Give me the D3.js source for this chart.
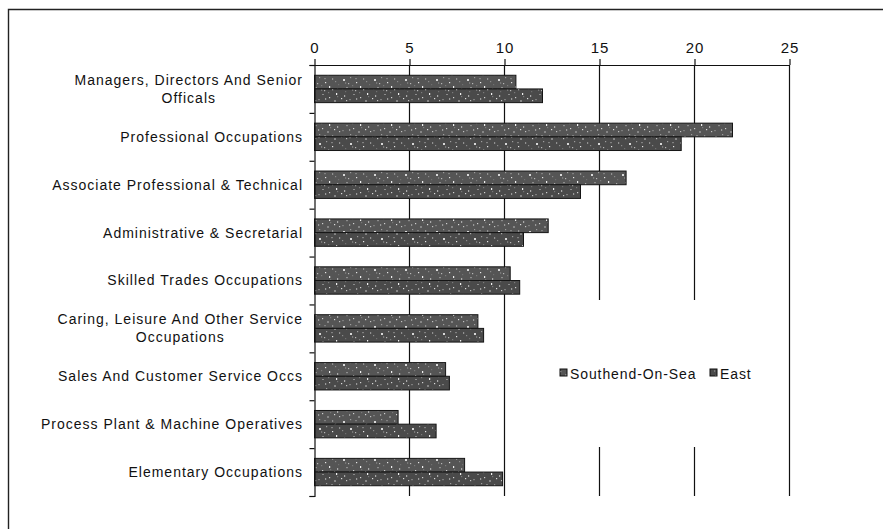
<!DOCTYPE html>
<html>
<head>
<meta charset="utf-8">
<script src="https://cdn.jsdelivr.net/npm/d3@7"></script>
<style>
  html, body { margin: 0; padding: 0; background: #fff; }
  svg { display: block; }
  text { font-family: "Liberation Sans", Arial, sans-serif; fill: #111; }
</style>
</head>
<body>
<svg id="chart" width="883" height="529"></svg>
<script>
// Occupation categories (label lines)
const categories = [
  ["Managers, Directors And Senior", "Officals"],
  ["Professional Occupations"],
  ["Associate Professional & Technical"],
  ["Administrative & Secretarial"],
  ["Skilled Trades Occupations"],
  ["Caring, Leisure And Other Service", "Occupations"],
  ["Sales And Customer Service Occs"],
  ["Process Plant & Machine Operatives"],
  ["Elementary Occupations"]
];
const seriesNames = ["Southend-On-Sea", "East"];
const southend = [10.6, 22.0, 16.4, 12.3, 10.3, 8.6, 6.9, 4.4, 7.9];
const east     = [12.0, 19.3, 14.0, 11.0, 10.8, 8.9, 7.1, 6.4, 9.9];
const xTicks = [0, 5, 10, 15, 20, 25];

const svg = d3.select("#chart");

// speckled fill used by both series
const defs = svg.append("defs");
const specks = [
  [2,3,"#d8d8d8"],[9,1,"#9c9c9c"],[15,6,"#e6e6e6"],[27,12,"#a8a8a8"],[5,11,"#8c8c8c"],
  [12,14,"#cfcfcf"],[22,2,"#909090"],[7,7,"#b5b5b5"],[1,16,"#7d7d7d"],[19,10,"#f0f0f0"],
  [25,5,"#8a8a8a"],[29,17,"#c0c0c0"],[17,17,"#868686"],[11,9,"#7a7a7a"],[24,15,"#dcdcdc"],
  [4,6,"#777"],[14,2,"#808080"],[20,13,"#777"],[8,15,"#999"],[28,8,"#6f6f6f"]
];
function speckle(id, base, shift) {
  const W = 31, H = 19;
  const p = defs.append("pattern").attr("id", id).attr("patternUnits", "userSpaceOnUse")
    .attr("width", W).attr("height", H);
  p.append("rect").attr("width", W).attr("height", H).attr("fill", base);
  specks.forEach(([dx, dy, c], i) => {
    p.append("rect").attr("x", (dx + shift) % W).attr("y", (dy + shift) % H)
      .attr("width", i % 4 === 0 ? 2 : 1.2).attr("height", i % 3 === 0 ? 2 : 1.2)
      .attr("fill", c);
  });
}
speckle("fillSouthend", "#555555", 0);
speckle("fillEast", "#4a4a4a", 7);

// outer frame
svg.append("path").attr("d", "M8.5,529 V9.5 H883").attr("fill", "none")
  .attr("stroke", "#222").attr("stroke-width", 1.4);

const plotLeft = 314.5, plotRight = 789.5, plotTop = 65, plotBottom = 496;
const x = d3.scaleLinear().domain([0, 25]).range([plotLeft, plotRight]);
const y = d3.scaleBand().domain(d3.range(categories.length)).range([plotTop, plotBottom]).padding(0);
const ySub = d3.scaleBand().domain(seriesNames).range([0, y.step()]).paddingInner(0).paddingOuter(0.75);

// vertical gridlines
const grid = svg.append("g");
xTicks.filter(t => t > 0).forEach(t => {
  grid.append("line").attr("x1", x(t)).attr("x2", x(t)).attr("y1", plotTop).attr("y2", plotBottom)
    .attr("stroke", "#111").attr("stroke-width", 1.2);
});

// bars
const values = [southend, east];
const fills = ["url(#fillSouthend)", "url(#fillEast)"];
seriesNames.forEach((name, si) => {
  svg.append("g").selectAll("rect").data(values[si]).join("rect")
    .attr("x", x(0))
    .attr("y", (d, i) => y(i) + ySub(name))
    .attr("width", d => x(d) - x(0))
    .attr("height", ySub.bandwidth())
    .attr("fill", fills[si])
    .attr("stroke", "#151515").attr("stroke-width", 1);
});

// legend box (hides gridlines behind it)
const lg = svg.append("g").attr("transform", "translate(548,300)");
lg.append("rect").attr("width", 215).attr("height", 147).attr("fill", "#fff");
const legendItems = [{ name: seriesNames[0], x: 12, fill: fills[0] }, { name: seriesNames[1], x: 162, fill: fills[1] }];
legendItems.forEach(it => {
  lg.append("rect").attr("x", it.x).attr("y", 69).attr("width", 7).attr("height", 7)
    .attr("fill", it.fill).attr("stroke", "#111").attr("stroke-width", 1);
  lg.append("text").attr("x", it.x + 10).attr("y", 79).attr("font-size", 14)
    .attr("letter-spacing", 0.9).text(it.name);
});

// top axis
const xAxis = d3.axisTop(x).tickValues(xTicks).tickSize(6).tickSizeOuter(0).tickFormat(d3.format("d"));
const gx = svg.append("g").attr("transform", `translate(0,${plotTop})`).call(xAxis);
gx.select(".domain").attr("stroke", "#111").attr("stroke-width", 1.2);
gx.selectAll(".tick line").attr("stroke", "#111").attr("stroke-width", 1.2);
gx.selectAll(".tick text").attr("font-size", 15).attr("font-family", "Liberation Sans, Arial, sans-serif")
  .attr("letter-spacing", 1).attr("fill", "#111").attr("dy", "-0.2em");

// left axis with ticks on category boundaries
const yEdge = d3.scaleLinear().domain([0, categories.length]).range([plotTop, plotBottom]);
const gy = svg.append("g").attr("transform", `translate(${plotLeft},0)`)
  .call(d3.axisLeft(yEdge).ticks(categories.length).tickSize(5).tickFormat(""));
gy.select(".domain").attr("stroke", "#111").attr("stroke-width", 1.2);
gy.selectAll(".tick line").attr("stroke", "#111").attr("stroke-width", 1.2);

// category labels
const labels = svg.append("g").attr("font-size", 14).attr("letter-spacing", 1);
categories.forEach((lines, i) => {
  const cy = y(i) + y.bandwidth() / 2;
  const t = labels.append("text").attr("text-anchor", "middle");
  const lh = 18;
  const first = cy - (lines.length - 1) * lh / 2;
  // centre multi-line labels on the widest line, right-aligned to the axis
  const tmp = labels.append("text").text(lines[0]);
  const w = lines.length > 1 ? d3.max(lines, l => { tmp.text(l); return tmp.node().getComputedTextLength(); }) : 0;
  tmp.remove();
  lines.forEach((l, k) => {
    if (lines.length > 1) {
      t.append("tspan").attr("x", 303 - w / 2).attr("y", first + k * lh).attr("dy", "0.35em").text(l);
    } else {
      t.attr("text-anchor", "end");
      t.append("tspan").attr("x", 303).attr("y", first).attr("dy", "0.35em").text(l);
    }
  });
});
</script>
</body>
</html>
